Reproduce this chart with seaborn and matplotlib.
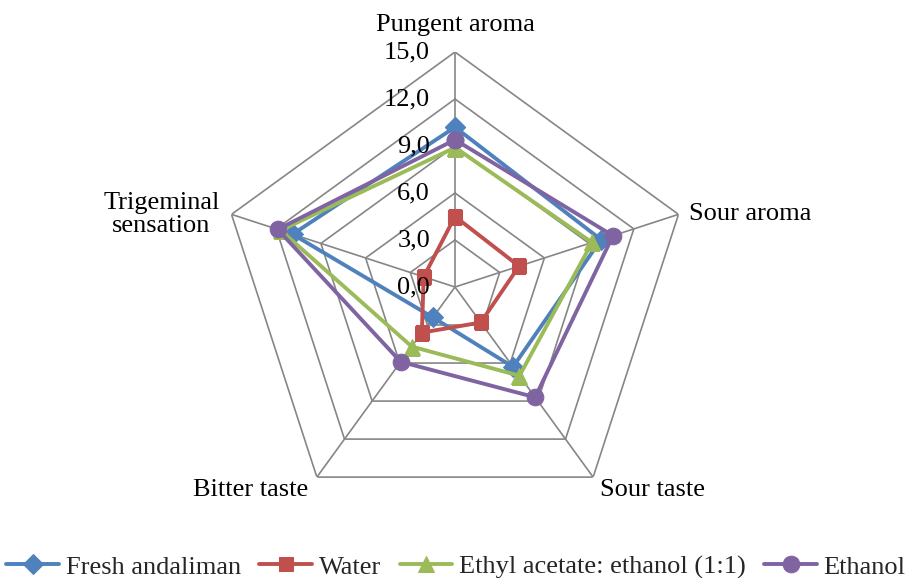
import numpy as np
import pandas as pd
import matplotlib
matplotlib.use("Agg")
import matplotlib.pyplot as plt
import seaborn as sns

# Sensory attributes (clockwise from the top)
categories = ["Pungent aroma", "Sour aroma", "Sour taste", "Bitter taste", "Trigeminal\nsensation"]

fresh_andaliman = [10.2, 9.8, 6.3, 2.4, 10.9]
water = [4.5, 4.3, 2.8, 3.6, 2.1]
ethyl_acetate_ethanol = [8.9, 9.2, 7.0, 4.7, 11.7]
ethanol = [9.4, 10.6, 8.7, 5.9, 11.9]

series_names = ["Fresh andaliman", "Water", "Ethyl acetate: ethanol (1:1)", "Ethanol"]
series_values = [fresh_andaliman, water, ethyl_acetate_ethanol, ethanol]
ticks = [0, 3, 6, 9, 12, 15]

colors = ["#4F81BD", "#C0504D", "#9BBB59", "#8064A2"]
markers = ["D", "s", "^", "o"]
marker_sizes = [10.5, 10, 11, 12]

sns.set_theme(style="white")
plt.rcParams["font.family"] = ["Liberation Serif", "DejaVu Serif"]
FS = 19

fig = plt.figure(figsize=(9.12, 5.78), dpi=100)
W, H = 912, 578
cx, cy, R = 455, 287, 235
ax = fig.add_axes([(cx - R) / W, (H - cy - R) / H, 2 * R / W, 2 * R / H], projection="polar")
ax.set_theta_offset(np.pi / 2)
ax.set_theta_direction(-1)
ax.set_ylim(0, 15)
ax.grid(False)
ax.spines["polar"].set_visible(False)
ax.set_xticks([])
ax.set_yticks([])
ax.set_facecolor("none")

n = len(categories)
angles = np.linspace(0, 2 * np.pi, n, endpoint=False)
closed = np.append(angles, 2 * np.pi)

grid_color = "#868686"
# pentagonal gridlines
for t in ticks[1:]:
    ax.plot(closed, [t] * (n + 1), color=grid_color, lw=1.2, zorder=1)
# spokes
for a in angles:
    ax.plot([a, a], [0, 15], color=grid_color, lw=1.2, zorder=1)

# tick labels beside the top spoke
for t in ticks:
    ax.annotate(f"{t:.1f}".replace(".", ","), xy=(0, t), xytext=(-25, 0),
                textcoords="offset pixels", ha="right", va="center", fontsize=FS,
                color="black", zorder=5)

# category labels
label_offsets = [(0, 16, "center", "bottom"),
                 (11, 0, "left", "center"),
                 (7, -2, "left", "top"),
                 (-9, -2, "right", "top"),
                 (-12, 0, "right", "center")]
for a, lab, (dx, dy, ha, va) in zip(angles, categories, label_offsets):
    ax.annotate(lab, xy=(a, 15), xytext=(dx, dy), textcoords="offset pixels",
                ha=ha, va=va, fontsize=FS, color="black", linespacing=1.1,
                multialignment="center")

# data series
for name, vals, c, m, ms in zip(series_names, series_values, colors, markers, marker_sizes):
    df = pd.DataFrame({"theta": closed, "value": list(vals) + [vals[0]]})
    sns.lineplot(data=df, x="theta", y="value", sort=False, ax=ax, color=c, lw=2.8,
                 marker=m, markersize=ms, markeredgecolor=c, markerfacecolor=c,
                 label=name, zorder=3)

ax.set_xlabel("")
ax.set_ylabel("")
handles, labels = ax.get_legend_handles_labels()
ax.get_legend().remove()
fig.legend(handles, labels, loc="lower center", bbox_to_anchor=(0.5, -0.02), ncol=4,
           frameon=False, fontsize=FS, handlelength=2.0, handletextpad=0.25,
           columnspacing=0.7, borderaxespad=0.2, borderpad=0.2)

fig.savefig("out.png", dpi=100, facecolor="white")
